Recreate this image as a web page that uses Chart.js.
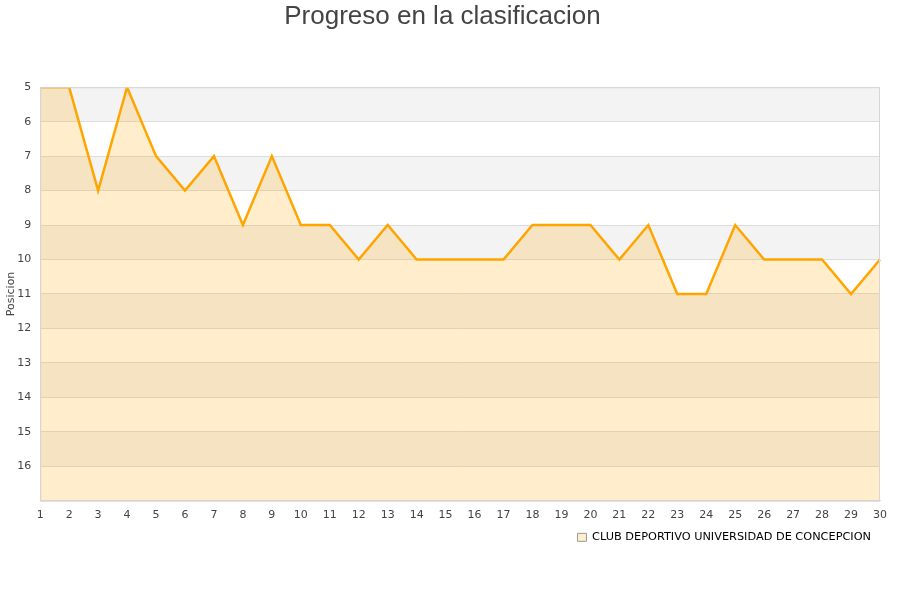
<!DOCTYPE html>
<html>
<head>
<meta charset="utf-8">
<script src="https://cdn.jsdelivr.net/npm/chart.js@4"></script>
<style>
    html, body { margin: 0; padding: 0; background: #fff; }
    #wrap { width: 900px; height: 600px; }
</style>
</head>
<body>
<div id="wrap"><canvas id="posGraph"></canvas></div>
<script>
const jornadas = ['1','2','3','4','5','6','7','8','9','10','11','12','13','14','15','16','17','18','19','20','21','22','23','24','25','26','27','28','29','30'];
const posiciones = [5, 5, 8, 5, 7, 8, 7, 9, 7, 9, 9, 10, 9, 10, 10, 10, 10, 9, 9, 9, 10, 9, 11, 11, 9, 10, 10, 10, 11, 10];
const teamName = 'CLUB DEPORTIVO UNIVERSIDAD DE CONCEPCION';
const posMin = 5, posMax = 17;

// Alternating gray/white bands behind the plot, taken from the y scale
const bandsPlugin = {
    id: 'bands',
    beforeDraw: (chart) => {
        const { ctx, chartArea, scales } = chart;
        const y = scales.y;
        ctx.save();
        ctx.fillStyle = '#fff';
        ctx.fillRect(0, 0, chart.width, chart.height);
        for (let v = posMin; v < posMax; v++) {
            if ((v - posMin) % 2 !== 0) continue;
            const top = y.getPixelForValue(v);
            const bot = y.getPixelForValue(v + 1);
            ctx.fillStyle = '#f3f3f3';
            ctx.fillRect(chartArea.left, top, chartArea.right - chartArea.left, bot - top);
        }
        ctx.restore();
    },
    afterDraw: (chart) => {
        const { ctx, chartArea } = chart;
        ctx.save();
        ctx.strokeStyle = '#d6d6d6';
        ctx.lineWidth = 1;
        ctx.strokeRect(chartArea.left + 0.5, chartArea.top + 0.5, chartArea.right - chartArea.left - 1, chartArea.bottom - chartArea.top);
        ctx.restore();
    }
};

const config = {
    type: 'line',
    data: {
        labels: jornadas,
        datasets: [{
            label: teamName,
            data: posiciones,
            borderColor: '#ffa500',
            backgroundColor: 'rgba(255, 165, 0, 0.2)',
            borderWidth: 2.5,
            pointRadius: 0,
            tension: 0,
            fill: { value: posMax }
        }]
    },
    options: {
        responsive: true,
        maintainAspectRatio: false,
        animation: false,
        layout: { padding: { left: 5, right: 20, top: 0, bottom: 47 } },
        plugins: {
            title: {
                display: true,
                text: 'Progreso en la clasificacion',
                color: '#444',
                font: { family: 'Liberation Sans', size: 26, weight: 'normal' },
                padding: { top: 1, bottom: 55 }
            },
            legend: {
                position: 'bottom',
                align: 'end',
                labels: {
                    color: '#222',
                    font: { family: 'DejaVu Sans', size: 11.3 },
                    boxWidth: 9,
                    boxHeight: 8,
                    padding: 9,
                    generateLabels: (chart) => [{
                        text: teamName,
                        fillStyle: '#ffedcc',
                        strokeStyle: '#999',
                        lineWidth: 1,
                        datasetIndex: 0
                    }]
                }
            },
            tooltip: { enabled: false }
        },
        scales: {
            x: {
                offset: false,
                grid: { display: false, drawTicks: false },
                border: { display: true, color: '#d6d6d6' },
                ticks: {
                    color: '#444',
                    font: { family: 'DejaVu Sans', size: 11 },
                    maxRotation: 0,
                    autoSkip: false,
                    padding: 8
                },
                afterFit: (scale) => { scale.height = 22; }
            },
            y: {
                reverse: true,
                min: posMin,
                max: posMax,
                title: {
                    display: true,
                    text: 'Posicion',
                    color: '#444',
                    font: { family: 'DejaVu Sans', size: 11 },
                    padding: { top: 0, bottom: -10 }
                },
                grid: { color: '#dddddd', drawTicks: false },
                border: { display: true, color: '#d6d6d6' },
                ticks: {
                    stepSize: 1,
                    color: '#444',
                    font: { family: 'DejaVu Sans', size: 11 },
                    padding: 9,
                    callback: (v) => v === posMax ? '' : v
                }
            }
        }
    },
    plugins: [bandsPlugin]
};

new Chart(document.getElementById('posGraph'), config);
</script>
</body>
</html>
